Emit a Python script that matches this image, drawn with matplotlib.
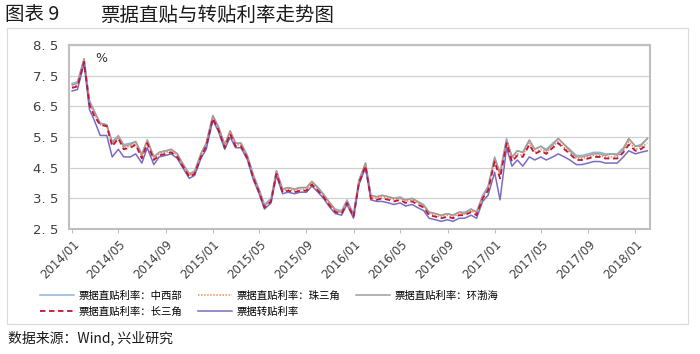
import numpy as np
import pandas as pd
import matplotlib
matplotlib.use("Agg")
import matplotlib.pyplot as plt
import matplotlib.dates as mdates
from matplotlib.patches import Rectangle

plt.rcParams['font.family'] = ['Noto Sans CJK SC', 'DejaVu Sans']

# ─── Data (semi-monthly readings, 2014/01 – 2018/02) ─────────────────────────
dates = pd.date_range("2014-01-01", "2018-02-01", freq="SMS")

zhongxibu = [7.25, 7.30, 8.05, 6.70, 6.30, 5.95, 5.90, 5.35, 5.55, 5.25,
             5.30, 5.35, 4.95, 5.40, 4.85, 5.00, 5.05, 5.10, 4.95, 4.65,
             4.30, 4.40, 4.95, 5.30, 6.20, 5.85, 5.25, 5.70, 5.30, 5.30,
             4.90, 4.30, 3.80, 3.30, 3.50, 4.40, 3.80, 3.85, 3.80, 3.85,
             3.85, 4.05, 3.85, 3.65, 3.35, 3.15, 3.10, 3.45, 3.00, 4.10,
             4.65, 3.60, 3.55, 3.60, 3.55, 3.50, 3.55, 3.45, 3.50, 3.40,
             3.30, 3.05, 3.00, 2.95, 3.00, 2.95, 3.05, 3.05, 3.15, 3.05,
             3.60, 3.90, 4.85, 4.35, 5.45, 4.85, 5.05, 5.00, 5.40, 5.10,
             5.20, 5.10, 5.30, 5.45, 5.25, 5.10, 4.90, 4.90, 4.95, 5.00,
             5.00, 4.95, 4.95, 4.95, 5.15, 5.45, 5.20, 5.25, 5.45]

zhusanjiao = [7.15, 7.20, 8.00, 6.60, 6.20, 5.90, 5.85, 5.25, 5.50, 5.15,
              5.20, 5.30, 4.85, 5.35, 4.80, 4.95, 5.00, 5.05, 4.90, 4.60,
              4.25, 4.35, 4.90, 5.25, 6.15, 5.80, 5.20, 5.65, 5.25, 5.25,
              4.85, 4.25, 3.75, 3.25, 3.45, 4.35, 3.75, 3.80, 3.75, 3.80,
              3.80, 4.00, 3.80, 3.60, 3.30, 3.10, 3.05, 3.40, 2.95, 4.05,
              4.60, 3.55, 3.50, 3.55, 3.50, 3.45, 3.50, 3.40, 3.45, 3.35,
              3.25, 3.00, 2.95, 2.90, 2.95, 2.90, 3.00, 3.00, 3.10, 3.00,
              3.55, 3.80, 4.75, 4.25, 5.35, 4.80, 4.95, 4.90, 5.30, 5.00,
              5.10, 5.00, 5.20, 5.35, 5.15, 5.00, 4.80, 4.80, 4.85, 4.90,
              4.90, 4.85, 4.85, 4.85, 5.05, 5.35, 5.10, 5.15, 5.30]

huanbohai = [7.20, 7.25, 8.05, 6.65, 6.30, 5.95, 5.90, 5.30, 5.50, 5.20,
             5.25, 5.35, 4.90, 5.40, 4.85, 5.00, 5.05, 5.10, 4.95, 4.60,
             4.30, 4.35, 4.95, 5.30, 6.20, 5.85, 5.25, 5.70, 5.30, 5.30,
             4.85, 4.30, 3.75, 3.25, 3.45, 4.40, 3.80, 3.85, 3.80, 3.85,
             3.85, 4.05, 3.85, 3.60, 3.35, 3.10, 3.05, 3.40, 2.95, 4.05,
             4.65, 3.60, 3.55, 3.60, 3.55, 3.50, 3.50, 3.45, 3.50, 3.40,
             3.25, 3.05, 3.00, 2.95, 3.00, 2.95, 3.05, 3.00, 3.15, 3.05,
             3.55, 3.85, 4.80, 4.30, 5.40, 4.85, 5.05, 5.00, 5.40, 5.10,
             5.20, 5.05, 5.25, 5.45, 5.25, 5.05, 4.85, 4.85, 4.90, 4.95,
             4.95, 4.90, 4.95, 4.90, 5.10, 5.45, 5.20, 5.20, 5.45]

changsanjiao = [7.10, 7.15, 7.95, 6.55, 6.15, 5.90, 5.85, 5.20, 5.45, 5.10,
                5.15, 5.25, 4.80, 5.30, 4.75, 4.90, 4.95, 5.00, 4.85, 4.55,
                4.20, 4.30, 4.85, 5.20, 6.10, 5.75, 5.15, 5.60, 5.20, 5.20,
                4.80, 4.20, 3.70, 3.20, 3.40, 4.30, 3.70, 3.75, 3.70, 3.75,
                3.75, 3.95, 3.75, 3.55, 3.25, 3.05, 3.00, 3.35, 2.90, 4.00,
                4.55, 3.50, 3.45, 3.50, 3.45, 3.40, 3.45, 3.35, 3.40, 3.30,
                3.20, 2.95, 2.90, 2.85, 2.90, 2.85, 2.95, 2.95, 3.05, 2.95,
                3.50, 3.75, 4.70, 4.15, 5.30, 4.70, 4.90, 4.85, 5.25, 4.95,
                5.05, 4.95, 5.15, 5.30, 5.10, 4.95, 4.75, 4.75, 4.80, 4.85,
                4.85, 4.80, 4.80, 4.80, 5.00, 5.25, 5.05, 5.10, 5.25]

zhuantie = [7.00, 7.05, 7.90, 6.40, 6.00, 5.55, 5.55, 4.85, 5.10, 4.85,
            4.85, 4.95, 4.65, 5.15, 4.60, 4.85, 4.90, 4.95, 4.80, 4.50,
            4.15, 4.25, 4.80, 5.10, 6.05, 5.70, 5.10, 5.50, 5.15, 5.15,
            4.75, 4.15, 3.65, 3.15, 3.35, 4.25, 3.65, 3.70, 3.65, 3.70,
            3.70, 3.90, 3.70, 3.50, 3.20, 3.00, 2.95, 3.30, 2.85, 3.95,
            4.50, 3.45, 3.40, 3.40, 3.35, 3.30, 3.35, 3.25, 3.30, 3.20,
            3.10, 2.85, 2.80, 2.75, 2.80, 2.75, 2.85, 2.85, 2.95, 2.85,
            3.40, 3.60, 4.35, 3.45, 5.15, 4.55, 4.75, 4.55, 4.85, 4.75,
            4.85, 4.75, 4.85, 4.95, 4.85, 4.75, 4.60, 4.60, 4.65, 4.70,
            4.70, 4.65, 4.65, 4.65, 4.85, 5.05, 4.95, 5.00, 5.05]

yticks = [2.5, 3.5, 4.5, 5.5, 6.5, 7.5, 8.5]
ytick_labels = ["2. 5", "3. 5", "4. 5", "5. 5", "6. 5", "7. 5", "8. 5"]
xtick_dates = pd.date_range("2014-01-01", "2018-01-01", freq="4MS")

# ─── Figure ─────────────────────────────────────────────────────────────────
fig = plt.figure(figsize=(7.0, 3.54), dpi=100)
fig.patch.set_facecolor("white")

# outer chart frame
fig.patches.append(Rectangle((7 / 700, 1 - 324 / 354), 681 / 700, 296 / 354,
                             transform=fig.transFigure, fill=False,
                             edgecolor="#d9d9d9", linewidth=0.8))

fig.text(5 / 700, 1 - 15 / 354, "图表 9", fontsize=14, va="center",
         color="#1a1a1a")
fig.text(100 / 700, 1 - 15 / 354, "票据直贴与转贴利率走势图", fontsize=14,
         va="center", color="#1a1a1a")

ax = fig.add_axes([69 / 700, 1 - 229 / 354, 581 / 700, 184 / 354])

l1, = ax.plot(dates, zhongxibu, color="#8db4d6", lw=1.1)
l3, = ax.plot(dates, huanbohai, color="#9e9e9e", lw=1.1)
l2, = ax.plot(dates, zhusanjiao, color="#f28a4b", lw=1.1, ls=(0, (1, 1)))
l5, = ax.plot(dates, zhuantie, color="#7a6bc4", lw=1.1)
l4, = ax.plot(dates, changsanjiao, color="#c3143c", lw=1.3, ls=(0, (3, 2)))

ax.set_xlim(pd.Timestamp("2013-12-24"), pd.Timestamp("2018-02-08"))
ax.set_ylim(2.5, 8.5)
ax.set_yticks(yticks)
ax.set_yticklabels(ytick_labels, fontsize=9.5, color="#404040",
                   family=["DejaVu Sans"])
ax.set_xticks(xtick_dates)
ax.set_xticklabels([d.strftime("%Y/%m") for d in xtick_dates], rotation=45,
                   ha="right", rotation_mode="anchor", fontsize=8.5,
                   color="#404040", family=["DejaVu Sans"])
ax.tick_params(axis="y", length=0, pad=8)
ax.tick_params(axis="x", length=3, color="#bfbfbf", pad=3)
ax.grid(axis="y", color="#d0d0d0", lw=0.9)
ax.set_axisbelow(True)
for s in ax.spines.values():
    s.set_color("#bfbfbf")
    s.set_linewidth(1.5)

ax.text(95 / 700, 1 - 59 / 354, "%", transform=fig.transFigure,
        fontsize=9, va="center", color="#333333", family=["DejaVu Sans"])

handles = [l1, l4, l2, l5, l3]
labels = ["票据直贴利率：中西部", "票据直贴利率：长三角",
          "票据直贴利率：珠三角", "票据转贴利率",
          "票据直贴利率：环渤海"]
fig.legend(handles, labels, ncol=3, loc="center left",
           bbox_to_anchor=(31 / 700, 1 - 304 / 354), frameon=False,
           fontsize=7.5, handlelength=3.2, columnspacing=1.5,
           labelspacing=0.55, handletextpad=0.5)

fig.text(8 / 700, 1 - 338 / 354, "数据来源：Wind, 兴业研究", fontsize=10,
         style="italic", va="center", color="#1a1a1a")

fig.savefig("out.png", dpi=100)
